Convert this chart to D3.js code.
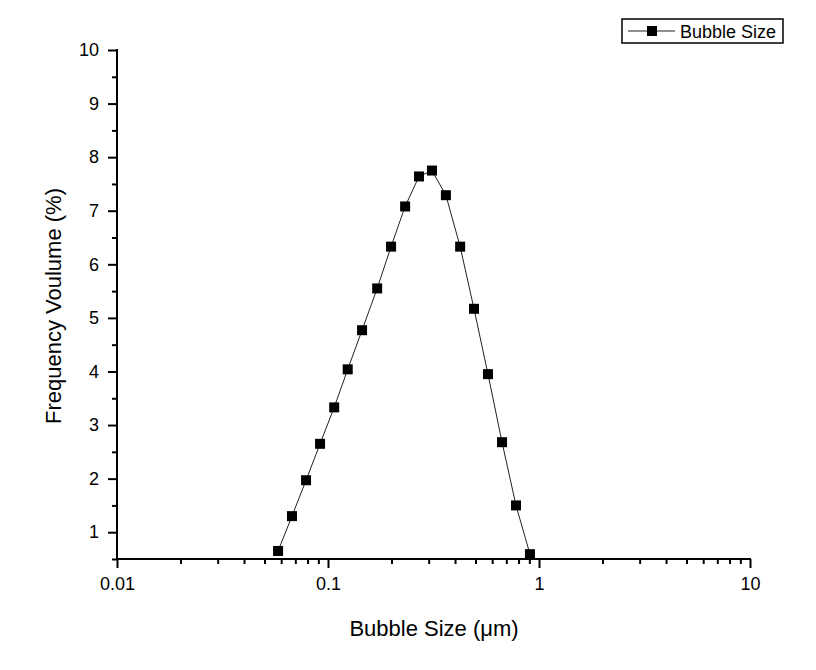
<!DOCTYPE html>
<html>
<meta charset="utf-8"/>
<head>
  <title>Bubble Size</title>
  <style>
    body { margin: 0; background: #fff; }
    text { font-family: "Liberation Sans", Arial, sans-serif; fill: #000; }
    .axis path, .axis line { stroke: #000; stroke-width: 2px; }
    .axis text { font-size: 18px; }
  </style>
</head>
<body>
<svg width="816" height="670"></svg>
<script src="https://d3js.org/d3.v7.min.js"></script>
<script>
// bubble size (um) and frequency volume (%)
var sizes = [0.058, 0.0675, 0.0787, 0.0917, 0.107, 0.124, 0.145, 0.171, 0.199, 0.232,
             0.270, 0.311, 0.362, 0.423, 0.492, 0.573, 0.668, 0.778, 0.906];
var volumes = [0.65, 1.30, 1.97, 2.65, 3.33, 4.04, 4.77, 5.55, 6.33, 7.08,
               7.64, 7.75, 7.29, 6.33, 5.17, 3.95, 2.68, 1.50, 0.59];
var xMajor = [0.01, 0.1, 1, 10];
var xLabels = ["0.01", "0.1", "1", "10"];
var yMajor = [1, 2, 3, 4, 5, 6, 7, 8, 9, 10];
var seriesName = "Bubble Size";

var svg = d3.select("svg");
var pLeft = 117, pRight = 750, pTop = 50, pBottom = 559;

var x = d3.scaleLog().domain([0.01, 10]).range([pLeft, pRight]);
var y = d3.scaleLinear().domain([0.5, 10]).range([pBottom, pTop]);

// minor ticks
var xMinor = [];
[0.01, 0.1, 1].forEach(function(d) {
  for (var k = 2; k <= 9; k++) xMinor.push(d * k);
});
var yMinor = [];
for (var v = 0.5; v < 10; v += 1) yMinor.push(v);

var gx = svg.append("g").attr("class", "axis")
  .attr("transform", "translate(0," + pBottom + ")");
gx.call(d3.axisBottom(x).tickValues(xMinor).tickSize(5).tickFormat(""));
gx.select(".domain").remove();
var gxMaj = gx.append("g").call(d3.axisBottom(x).tickValues(xMajor).tickSize(9).tickPadding(9)
    .tickFormat(function(d, i) { return xLabels[i]; }));
gxMaj.select(".domain").remove();

var gy = svg.append("g").attr("class", "axis")
  .attr("transform", "translate(" + pLeft + ",0)");
gy.call(d3.axisLeft(y).tickValues(yMinor).tickSize(5).tickFormat(""));
gy.select(".domain").remove();
var gyMaj = gy.append("g").call(d3.axisLeft(y).tickValues(yMajor).tickSize(9).tickPadding(9));
gyMaj.select(".domain").remove();

svg.selectAll(".axis text")
  .style("font-size", "18px")
  .style("font-family", "Liberation Sans, Arial, sans-serif")
  .attr("fill", "#000");

// axis lines
svg.append("line").attr("x1", pLeft - 1).attr("x2", pRight + 1).attr("y1", pBottom).attr("y2", pBottom)
  .attr("stroke", "#000").attr("stroke-width", 2);
svg.append("line").attr("x1", pLeft).attr("x2", pLeft).attr("y1", pTop - 1).attr("y2", pBottom + 1)
  .attr("stroke", "#000").attr("stroke-width", 2);

// axis titles
svg.append("text").attr("x", 434).attr("y", 636)
  .attr("text-anchor", "middle").style("font-size", "22px").text("Bubble Size (\u03bcm)");
svg.append("text").attr("transform", "translate(61,306) rotate(-90)")
  .attr("text-anchor", "middle").style("font-size", "22px").text("Frequency Voulume (%)");

// series
var pts = sizes.map(function(s, i) { return [s, volumes[i]]; });
svg.append("path").datum(pts)
  .attr("fill", "none").attr("stroke", "#222").attr("stroke-width", 1)
  .attr("d", d3.line().x(function(d) { return x(d[0]); }).y(function(d) { return y(d[1]); }));
svg.append("g").selectAll("rect").data(pts).enter().append("rect")
  .attr("x", function(d) { return x(d[0]) - 5; })
  .attr("y", function(d) { return y(d[1]) - 5; })
  .attr("width", 10).attr("height", 10).attr("fill", "#000");

// legend
var lg = svg.append("g").attr("transform", "translate(622,19)");
lg.append("rect").attr("width", 161).attr("height", 24)
  .attr("fill", "#fff").attr("stroke", "#000").attr("stroke-width", 1.5);
lg.append("line").attr("x1", 6).attr("x2", 53).attr("y1", 12).attr("y2", 12)
  .attr("stroke", "#222").attr("stroke-width", 1);
lg.append("rect").attr("x", 25).attr("y", 7).attr("width", 10).attr("height", 10).attr("fill", "#000");
lg.append("text").attr("x", 58).attr("y", 19).style("font-size", "18px").text(seriesName);
</script>
</body>
</html>
